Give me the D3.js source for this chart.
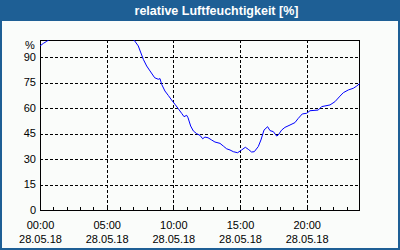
<!DOCTYPE html>
<html><head><meta charset="utf-8">
<script src="https://cdn.jsdelivr.net/npm/d3@7"></script>
<style>body{margin:0;background:#fff}svg{display:block}</style>
</head><body>
<script>
const title = "relative Luftfeuchtigkeit [%]";
const yTicks = [0, 15, 30, 45, 60, 75, 90];
const xTicks = [0, 5, 10, 15, 20];
const xTickTimes = ["00:00", "05:00", "10:00", "15:00", "20:00"];
const xTickDate = "28.05.18";
const yUnit = "%";
// hours since 00:00 on 28.05.18
const hours = [0, 0.25, 0.5, 0.7, 1, 2, 3, 4, 5, 6, 6.5, 7.05, 7.37, 7.75, 8.0, 8.25, 8.6, 8.87, 9.0, 9.12, 9.37, 9.62, 9.87, 10.12, 10.37, 10.62, 10.8, 11.0, 11.1, 11.3, 11.5, 11.75, 12.0, 12.2, 12.37, 12.6, 12.87, 13.12, 13.5, 13.75, 14.0, 14.25, 14.5, 14.82, 15.12, 15.4, 15.62, 15.87, 16.07, 16.37, 16.57, 16.8, 17.07, 17.25, 17.5, 17.75, 17.87, 18.12, 18.37, 18.75, 19.12, 19.37, 19.67, 20.0, 20.25, 20.87, 21.12, 21.75, 22.12, 22.5, 22.75, 23.12, 23.5, 23.75, 24.0];
const humidity = [96.5, 98, 99.2, 100.3, 102, 104, 105, 105, 104, 103, 102, 100, 96.5, 88.6, 84.7, 81.8, 77.8, 76.9, 77.3, 74, 70, 67.4, 64.7, 62.2, 59.6, 56.9, 54.9, 55.7, 54.3, 49.4, 46.5, 44.9, 43.9, 41.9, 42.9, 42.5, 41.2, 40, 39.2, 37.6, 36, 35.3, 34.3, 33.7, 35.3, 36.9, 35.7, 34.1, 34.3, 37.3, 41.2, 47, 49, 46.7, 46.1, 43.5, 44.1, 47, 48.6, 50, 51.4, 53.9, 56.5, 56.9, 58.4, 58.8, 60.8, 61.8, 63.7, 67, 69, 70.6, 71.6, 72.9, 74.5];

const W = 400, H = 250;
const svg = d3.select("body").append("svg").attr("width", W).attr("height", H);
const blue = "#1e5f95", bg = "#fafcfa";
svg.append("rect").attr("width", W).attr("height", H).attr("fill", blue);
svg.append("rect").attr("x", 2).attr("y", 21).attr("width", 396).attr("height", 227).attr("fill", bg);
svg.append("text").attr("x", 216.5).attr("y", 15).attr("text-anchor", "middle")
  .attr("font-family", "Liberation Sans, Arial, sans-serif").attr("font-weight", "bold")
  .attr("font-size", "12.5px").attr("fill", "#fff").text(title);

const x = d3.scaleLinear().domain([0, 24]).range([40, 360]);
const y = d3.scaleLinear().domain([0, 100]).range([210, 40]);
const font = "Liberation Sans, Arial, sans-serif";

// grid
const g = svg.append("g").attr("shape-rendering", "crispEdges");
g.selectAll(".hg").data(yTicks.filter(d => d > 0)).join("line")
  .attr("x1", 40).attr("x2", 359).attr("y1", d => Math.round(y(d)) + 0.5).attr("y2", d => Math.round(y(d)) + 0.5)
  .attr("stroke", "#000").attr("stroke-dasharray", "3,2");
g.selectAll(".vg").data(xTicks.filter(d => d > 0)).join("line")
  .attr("y1", 40).attr("y2", 210).attr("x1", d => Math.round(x(d)) + 0.5).attr("x2", d => Math.round(x(d)) + 0.5)
  .attr("stroke", "#000").attr("stroke-dasharray", "3,2");

// minor ticks every hour
g.selectAll(".mt").data(d3.range(1, 24)).join("line")
  .attr("x1", d => Math.round(x(d)) + 0.5).attr("x2", d => Math.round(x(d)) + 0.5)
  .attr("y1", 210).attr("y2", 207).attr("stroke", "#000");

// data line
svg.append("clipPath").attr("id", "clip").append("rect").attr("x", 40).attr("y", 40).attr("width", 320).attr("height", 171);
const line = d3.line().x((d, i) => x(hours[i])).y(d => y(d));
svg.append("path").attr("clip-path", "url(#clip)").attr("d", line(humidity))
  .attr("fill", "none").attr("stroke", "#0000ff").attr("stroke-width", 1);

// frame
g.append("rect").attr("x", 40.5).attr("y", 40.5).attr("width", 319).attr("height", 170)
  .attr("fill", "none").attr("stroke", "#000");

// y labels
svg.selectAll(".yl").data(yTicks).join("text")
  .attr("x", 36).attr("y", d => y(d)).attr("dy", "0.35em").attr("text-anchor", "end")
  .attr("font-family", font).attr("font-size", "11px").attr("fill", "#000").text(d => d);
svg.append("text").attr("x", 25).attr("y", 49).attr("font-family", font).attr("font-size", "11px").text(yUnit);

// x labels
svg.selectAll(".xl").data(xTicks).join("text")
  .attr("x", d => x(d) + 0.5).attr("y", 229).attr("text-anchor", "middle")
  .attr("font-family", font).attr("font-size", "11px").text((d, i) => xTickTimes[i]);
svg.selectAll(".xd").data(xTicks).join("text")
  .attr("x", d => x(d) + 0.5).attr("y", 243).attr("text-anchor", "middle")
  .attr("font-family", font).attr("font-size", "11px").text(xTickDate);
</script>
</body></html>
